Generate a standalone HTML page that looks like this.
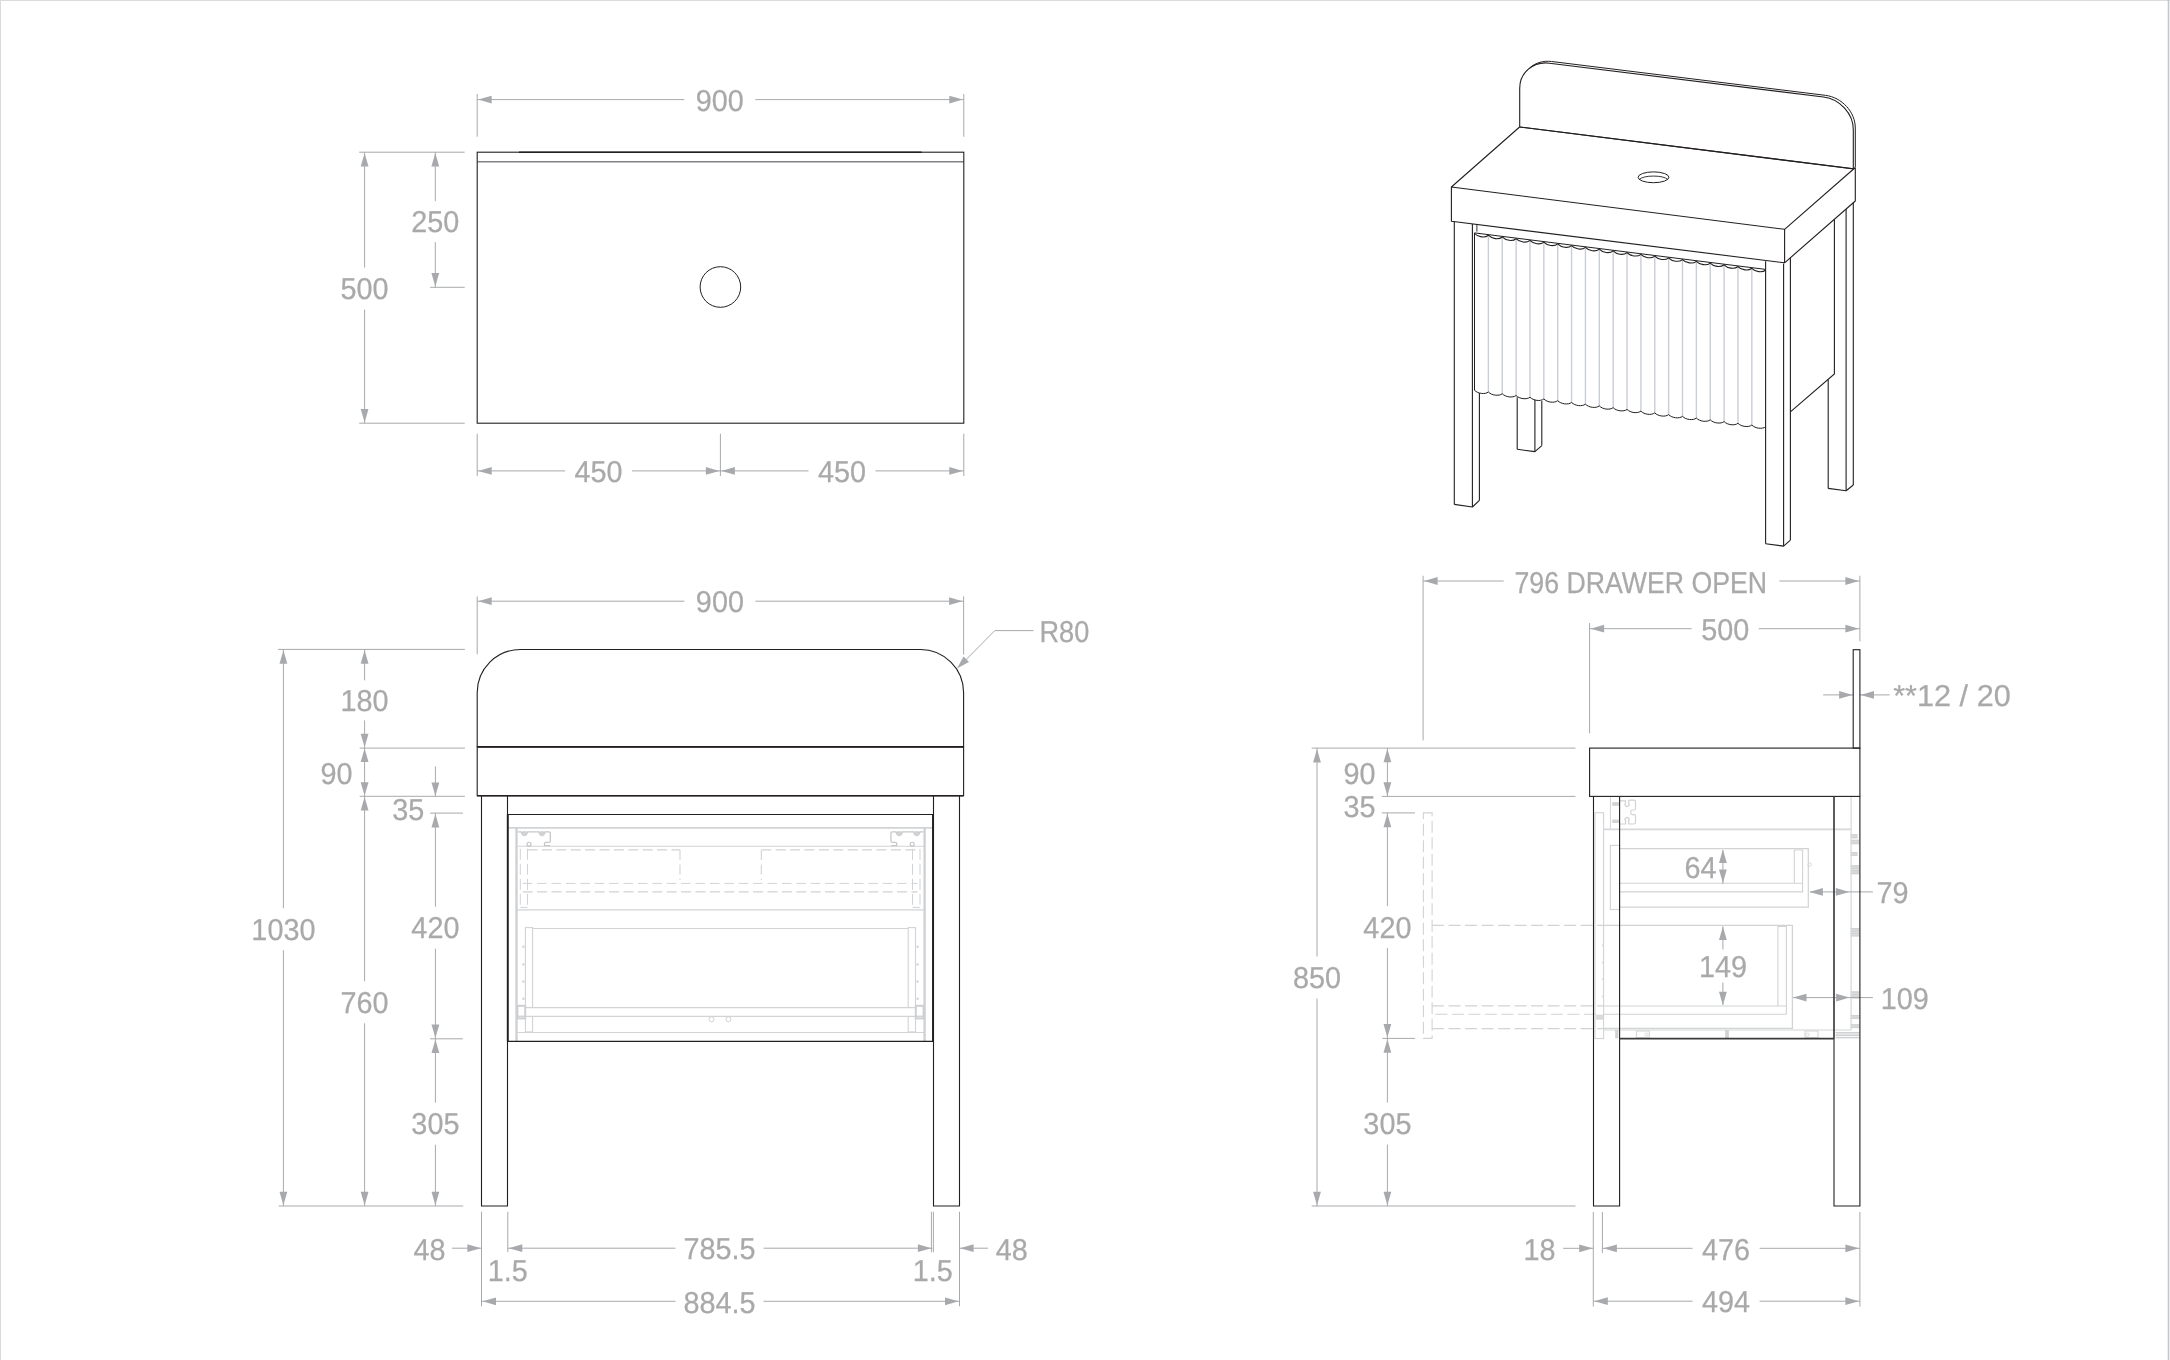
<!DOCTYPE html>
<html lang="en"><head><meta charset="utf-8"><title>Vanity 900 technical drawing</title>
<style>
html,body{margin:0;padding:0;background:#fff}
body{width:2170px;height:1360px;overflow:hidden}
svg{display:block}
svg text{font-family:"Liberation Sans",sans-serif;fill:#a7a9ac;stroke:#a7a9ac;stroke-width:0.25px;text-rendering:geometricPrecision}
</style></head><body>
<svg width="2170" height="1360" viewBox="0 0 2170 1360">
<rect x="0" y="0" width="2170" height="1360" fill="#fff"/>
<line x1="0.50" y1="0.00" x2="0.50" y2="1360.00" stroke="#d9dcdd" stroke-width="1" />
<line x1="0.00" y1="0.50" x2="2170.00" y2="0.50" stroke="#d9dcdd" stroke-width="1" />
<line x1="2168.50" y1="0.00" x2="2168.50" y2="1360.00" stroke="#c3c5cc" stroke-width="1.6" />
<line x1="477.20" y1="161.80" x2="963.80" y2="161.80" stroke="#808285" stroke-width="1.6" />
<line x1="477.20" y1="94.00" x2="477.20" y2="136.80" stroke="#a7a9ac" stroke-width="1" />
<line x1="963.80" y1="94.00" x2="963.80" y2="136.80" stroke="#a7a9ac" stroke-width="1" />
<line x1="477.20" y1="99.60" x2="684.30" y2="99.60" stroke="#a7a9ac" stroke-width="1" />
<line x1="755.30" y1="99.60" x2="963.80" y2="99.60" stroke="#a7a9ac" stroke-width="1" />
<polygon points="478.20,99.60 491.70,95.70 491.70,103.50" fill="#a7a9ac"/>
<polygon points="962.80,99.60 949.30,95.70 949.30,103.50" fill="#a7a9ac"/>
<line x1="359.20" y1="152.20" x2="464.70" y2="152.20" stroke="#a7a9ac" stroke-width="1" />
<line x1="359.20" y1="423.20" x2="464.70" y2="423.20" stroke="#a7a9ac" stroke-width="1" />
<line x1="430.20" y1="287.30" x2="464.70" y2="287.30" stroke="#a7a9ac" stroke-width="1" />
<line x1="364.60" y1="152.20" x2="364.60" y2="267.60" stroke="#a7a9ac" stroke-width="1" />
<line x1="364.60" y1="309.60" x2="364.60" y2="423.20" stroke="#a7a9ac" stroke-width="1" />
<polygon points="364.60,153.00 360.70,166.50 368.50,166.50" fill="#a7a9ac"/>
<polygon points="364.60,422.40 360.70,408.90 368.50,408.90" fill="#a7a9ac"/>
<line x1="435.30" y1="152.20" x2="435.30" y2="201.10" stroke="#a7a9ac" stroke-width="1" />
<line x1="435.30" y1="242.10" x2="435.30" y2="287.30" stroke="#a7a9ac" stroke-width="1" />
<polygon points="435.30,153.00 431.40,166.50 439.20,166.50" fill="#a7a9ac"/>
<polygon points="435.30,286.50 431.40,273.00 439.20,273.00" fill="#a7a9ac"/>
<line x1="477.20" y1="433.70" x2="477.20" y2="476.00" stroke="#a7a9ac" stroke-width="1" />
<line x1="720.40" y1="433.70" x2="720.40" y2="476.00" stroke="#a7a9ac" stroke-width="1" />
<line x1="963.80" y1="433.70" x2="963.80" y2="476.00" stroke="#a7a9ac" stroke-width="1" />
<line x1="477.20" y1="470.90" x2="565.10" y2="470.90" stroke="#a7a9ac" stroke-width="1" />
<line x1="632.10" y1="470.90" x2="720.40" y2="470.90" stroke="#a7a9ac" stroke-width="1" />
<polygon points="478.20,470.90 491.70,467.00 491.70,474.80" fill="#a7a9ac"/>
<polygon points="719.40,470.90 705.90,467.00 705.90,474.80" fill="#a7a9ac"/>
<line x1="720.40" y1="470.90" x2="808.50" y2="470.90" stroke="#a7a9ac" stroke-width="1" />
<line x1="875.50" y1="470.90" x2="963.80" y2="470.90" stroke="#a7a9ac" stroke-width="1" />
<polygon points="721.40,470.90 734.90,467.00 734.90,474.80" fill="#a7a9ac"/>
<polygon points="962.80,470.90 949.30,467.00 949.30,474.80" fill="#a7a9ac"/>
<line x1="507.50" y1="827.90" x2="933.50" y2="827.90" stroke="#d1d3d4" stroke-width="1.7" />
<line x1="516.50" y1="827.90" x2="516.50" y2="1041.30" stroke="#cdcfd1" stroke-width="2.3" />
<line x1="924.60" y1="827.90" x2="924.60" y2="1041.30" stroke="#cdcfd1" stroke-width="2.3" />
<line x1="517.50" y1="846.30" x2="923.60" y2="846.30" stroke="#d1d3d4" stroke-width="1.1" />
<line x1="516.50" y1="909.90" x2="924.60" y2="909.90" stroke="#d1d3d4" stroke-width="1.2" />
<line x1="516.50" y1="1032.50" x2="924.60" y2="1032.50" stroke="#d1d3d4" stroke-width="1.1" />
<path d="M518,831.8 h3.4 a2.9,2.9 0 0 0 6,0 h11.6 a2.9,2.9 0 0 0 6,0 h3.8 q1.5,0 1.5,1.5 v7.6 q0,1.5 -1.5,1.5 h-3 q-1.3,0 -1.3,1.3 v1.9 h5.6" stroke="#c5c7c9" stroke-width="1.3" fill="none" />
<circle cx="524.40" cy="833.6" r="2.7" fill="#cfd1d3" stroke="none"/>
<circle cx="542.00" cy="833.6" r="2.7" fill="#cfd1d3" stroke="none"/>
<circle cx="529.00" cy="844.3" r="2" fill="none" stroke="#c0c2c4" stroke-width="1.1"/>
<path d="M923.2,831.8 h-3.4 a2.9,2.9 0 0 1 -6,0 h-11.6 a2.9,2.9 0 0 1 -6,0 h-3.8 q-1.5,0 -1.5,1.5 v7.6 q0,1.5 1.5,1.5 h3 q1.3,0 1.3,1.3 v1.9 h-5.6" stroke="#c5c7c9" stroke-width="1.3" fill="none" />
<circle cx="916.80" cy="833.6" r="2.7" fill="#cfd1d3" stroke="none"/>
<circle cx="899.20" cy="833.6" r="2.7" fill="#cfd1d3" stroke="none"/>
<circle cx="912.20" cy="844.3" r="2" fill="none" stroke="#c0c2c4" stroke-width="1.1"/>
<line x1="527.50" y1="849.90" x2="680.00" y2="849.90" stroke="#d1d3d4" stroke-width="1.3" stroke-dasharray="10 4.4"/>
<line x1="761.30" y1="849.90" x2="920.00" y2="849.90" stroke="#d1d3d4" stroke-width="1.3" stroke-dasharray="10 4.4"/>
<line x1="680.00" y1="850.00" x2="680.00" y2="880.00" stroke="#d1d3d4" stroke-width="1.1" stroke-dasharray="10 4.4"/>
<line x1="761.30" y1="850.00" x2="761.30" y2="880.00" stroke="#d1d3d4" stroke-width="1.1" stroke-dasharray="10 4.4"/>
<line x1="522.70" y1="883.40" x2="917.50" y2="883.40" stroke="#d1d3d4" stroke-width="1" stroke-dasharray="9.6 4.8"/>
<line x1="522.70" y1="891.90" x2="917.50" y2="891.90" stroke="#d1d3d4" stroke-width="1.3" stroke-dasharray="10 4.4"/>
<line x1="520.30" y1="848.80" x2="520.30" y2="907.40" stroke="#d1d3d4" stroke-width="1" stroke-dasharray="11 4"/>
<line x1="527.50" y1="848.80" x2="527.50" y2="907.40" stroke="#d1d3d4" stroke-width="1" stroke-dasharray="11 4"/>
<line x1="912.50" y1="848.80" x2="912.50" y2="907.40" stroke="#d1d3d4" stroke-width="1" stroke-dasharray="11 4"/>
<line x1="920.00" y1="848.80" x2="920.00" y2="907.40" stroke="#d1d3d4" stroke-width="1" stroke-dasharray="11 4"/>
<line x1="520.30" y1="907.40" x2="527.50" y2="907.40" stroke="#d1d3d4" stroke-width="1" />
<line x1="912.50" y1="907.40" x2="920.00" y2="907.40" stroke="#d1d3d4" stroke-width="1" />
<rect x="525.40" y="927.60" width="7.20" height="104.30" stroke="#d1d3d4" stroke-width="1.1" fill="none"/>
<rect x="908.20" y="927.60" width="7.30" height="104.30" stroke="#d1d3d4" stroke-width="1.1" fill="none"/>
<line x1="532.60" y1="928.50" x2="908.20" y2="928.50" stroke="#d1d3d4" stroke-width="1.1" />
<line x1="525.40" y1="1007.60" x2="915.50" y2="1007.60" stroke="#d1d3d4" stroke-width="1.2" />
<line x1="518.00" y1="1016.30" x2="923.00" y2="1016.30" stroke="#d1d3d4" stroke-width="1.2" />
<rect x="525.40" y="1007.60" width="390.10" height="8.70" stroke="none" stroke-width="0" fill="#fff"/>
<line x1="525.40" y1="1007.60" x2="915.50" y2="1007.60" stroke="#d1d3d4" stroke-width="1.2" />
<line x1="518.00" y1="1016.30" x2="923.00" y2="1016.30" stroke="#d1d3d4" stroke-width="1.2" />
<rect x="517.40" y="1005.80" width="7.80" height="12.60" stroke="#cdcfd1" stroke-width="2" fill="none"/>
<rect x="915.80" y="1005.80" width="7.80" height="12.60" stroke="#cdcfd1" stroke-width="2" fill="none"/>
<circle cx="523.4" cy="946.8" r="1.2" fill="#d1d3d4" stroke="none"/>
<circle cx="917.6" cy="946.8" r="1.2" fill="#d1d3d4" stroke="none"/>
<circle cx="523.4" cy="964.4" r="1.2" fill="#d1d3d4" stroke="none"/>
<circle cx="917.6" cy="964.4" r="1.2" fill="#d1d3d4" stroke="none"/>
<circle cx="523.4" cy="981.5" r="1.2" fill="#d1d3d4" stroke="none"/>
<circle cx="917.6" cy="981.5" r="1.2" fill="#d1d3d4" stroke="none"/>
<circle cx="523.4" cy="998.7" r="1.2" fill="#d1d3d4" stroke="none"/>
<circle cx="917.6" cy="998.7" r="1.2" fill="#d1d3d4" stroke="none"/>
<circle cx="711.5" cy="1019.3" r="2.5" fill="none" stroke="#d1d3d4" stroke-width="1"/>
<circle cx="728.4" cy="1019.3" r="2.5" fill="none" stroke="#d1d3d4" stroke-width="1"/>
<line x1="477.20" y1="596.40" x2="477.20" y2="654.30" stroke="#a7a9ac" stroke-width="1" />
<line x1="963.60" y1="596.40" x2="963.60" y2="654.50" stroke="#a7a9ac" stroke-width="1" />
<line x1="477.20" y1="601.20" x2="684.40" y2="601.20" stroke="#a7a9ac" stroke-width="1" />
<line x1="755.40" y1="601.20" x2="963.60" y2="601.20" stroke="#a7a9ac" stroke-width="1" />
<polygon points="478.20,601.20 491.70,597.30 491.70,605.10" fill="#a7a9ac"/>
<polygon points="962.60,601.20 949.10,597.30 949.10,605.10" fill="#a7a9ac"/>
<line x1="960.00" y1="665.80" x2="994.80" y2="630.60" stroke="#a7a9ac" stroke-width="1" />
<line x1="994.80" y1="630.60" x2="1033.60" y2="630.60" stroke="#a7a9ac" stroke-width="1" />
<polygon points="956.9,668.4 963.6,656.6 969,662" fill="#a7a9ac"/>
<line x1="278.00" y1="649.40" x2="464.90" y2="649.40" stroke="#a7a9ac" stroke-width="1" />
<line x1="359.70" y1="748.10" x2="464.90" y2="748.10" stroke="#a7a9ac" stroke-width="1" />
<line x1="359.70" y1="796.30" x2="464.90" y2="796.30" stroke="#a7a9ac" stroke-width="1" />
<line x1="430.10" y1="813.10" x2="462.90" y2="813.10" stroke="#a7a9ac" stroke-width="1" />
<line x1="430.10" y1="1038.80" x2="462.90" y2="1038.80" stroke="#a7a9ac" stroke-width="1" />
<line x1="278.70" y1="1206.00" x2="463.20" y2="1206.00" stroke="#a7a9ac" stroke-width="1" />
<line x1="283.40" y1="649.40" x2="283.40" y2="908.30" stroke="#a7a9ac" stroke-width="1" />
<line x1="283.40" y1="950.30" x2="283.40" y2="1206.00" stroke="#a7a9ac" stroke-width="1" />
<polygon points="283.40,650.20 279.50,663.70 287.30,663.70" fill="#a7a9ac"/>
<polygon points="283.40,1205.20 279.50,1191.70 287.30,1191.70" fill="#a7a9ac"/>
<line x1="364.60" y1="649.40" x2="364.60" y2="680.40" stroke="#a7a9ac" stroke-width="1" />
<line x1="364.60" y1="720.40" x2="364.60" y2="748.10" stroke="#a7a9ac" stroke-width="1" />
<polygon points="364.60,650.20 360.70,663.70 368.50,663.70" fill="#a7a9ac"/>
<polygon points="364.60,747.30 360.70,733.80 368.50,733.80" fill="#a7a9ac"/>
<line x1="364.60" y1="748.10" x2="364.60" y2="796.30" stroke="#a7a9ac" stroke-width="1" />
<polygon points="364.60,748.60 360.70,762.10 368.50,762.10" fill="#a7a9ac"/>
<polygon points="364.60,795.80 360.70,782.30 368.50,782.30" fill="#a7a9ac"/>
<line x1="364.60" y1="796.30" x2="364.60" y2="981.30" stroke="#a7a9ac" stroke-width="1" />
<line x1="364.60" y1="1023.30" x2="364.60" y2="1206.00" stroke="#a7a9ac" stroke-width="1" />
<polygon points="364.60,797.10 360.70,810.60 368.50,810.60" fill="#a7a9ac"/>
<polygon points="364.60,1205.20 360.70,1191.70 368.50,1191.70" fill="#a7a9ac"/>
<line x1="435.40" y1="766.40" x2="435.40" y2="796.30" stroke="#a7a9ac" stroke-width="1" />
<polygon points="435.40,796.00 431.50,782.50 439.30,782.50" fill="#a7a9ac"/>
<line x1="435.40" y1="813.10" x2="435.40" y2="906.70" stroke="#a7a9ac" stroke-width="1" />
<line x1="435.40" y1="948.70" x2="435.40" y2="1038.80" stroke="#a7a9ac" stroke-width="1" />
<polygon points="435.40,813.90 431.50,827.40 439.30,827.40" fill="#a7a9ac"/>
<polygon points="435.40,1038.00 431.50,1024.50 439.30,1024.50" fill="#a7a9ac"/>
<line x1="435.40" y1="1038.80" x2="435.40" y2="1102.70" stroke="#a7a9ac" stroke-width="1" />
<line x1="435.40" y1="1144.70" x2="435.40" y2="1206.00" stroke="#a7a9ac" stroke-width="1" />
<polygon points="435.40,1039.60 431.50,1053.10 439.30,1053.10" fill="#a7a9ac"/>
<polygon points="435.40,1205.20 431.50,1191.70 439.30,1191.70" fill="#a7a9ac"/>
<line x1="481.50" y1="1211.70" x2="481.50" y2="1306.20" stroke="#a7a9ac" stroke-width="1" />
<line x1="959.50" y1="1211.70" x2="959.50" y2="1306.20" stroke="#a7a9ac" stroke-width="1" />
<line x1="507.80" y1="1211.70" x2="507.80" y2="1252.20" stroke="#a7a9ac" stroke-width="1" />
<line x1="931.40" y1="1211.70" x2="931.40" y2="1252.20" stroke="#a7a9ac" stroke-width="1" />
<line x1="933.40" y1="1211.70" x2="933.40" y2="1252.20" stroke="#a7a9ac" stroke-width="1" />
<line x1="452.00" y1="1248.20" x2="481.50" y2="1248.20" stroke="#a7a9ac" stroke-width="1" />
<polygon points="480.90,1248.20 467.40,1244.30 467.40,1252.10" fill="#a7a9ac"/>
<line x1="959.50" y1="1248.20" x2="988.00" y2="1248.20" stroke="#a7a9ac" stroke-width="1" />
<polygon points="960.10,1248.20 973.60,1244.30 973.60,1252.10" fill="#a7a9ac"/>
<line x1="507.80" y1="1248.20" x2="675.50" y2="1248.20" stroke="#a7a9ac" stroke-width="1" />
<line x1="763.50" y1="1248.20" x2="932.40" y2="1248.20" stroke="#a7a9ac" stroke-width="1" />
<polygon points="508.80,1248.20 522.30,1244.30 522.30,1252.10" fill="#a7a9ac"/>
<polygon points="931.40,1248.20 917.90,1244.30 917.90,1252.10" fill="#a7a9ac"/>
<line x1="481.50" y1="1301.30" x2="675.50" y2="1301.30" stroke="#a7a9ac" stroke-width="1" />
<line x1="763.50" y1="1301.30" x2="959.50" y2="1301.30" stroke="#a7a9ac" stroke-width="1" />
<polygon points="482.50,1301.30 496.00,1297.40 496.00,1305.20" fill="#a7a9ac"/>
<polygon points="958.50,1301.30 945.00,1297.40 945.00,1305.20" fill="#a7a9ac"/>
<line x1="1851.10" y1="796.40" x2="1851.10" y2="1030.00" stroke="#d1d3d4" stroke-width="1.1" />
<rect x="1595.00" y="812.70" width="8.60" height="225.90" stroke="#d1d3d4" stroke-width="1.1" fill="none"/>
<line x1="1610.40" y1="797.10" x2="1610.40" y2="829.30" stroke="#d1d3d4" stroke-width="1" />
<line x1="1603.60" y1="829.30" x2="1851.10" y2="829.30" stroke="#d5d7d9" stroke-width="1.8" />
<path d="M1620,800.8 h5.6 v2 a2.1,2.1 0 1 0 3,0 v-2 q0.3,-0.6 1.5,-0.6 h3.6 q1.8,0 1.8,1.8 v6.6 q0,1.4 -1.4,1.4 h-1.6 q-1.7,0 -1.7,1.7 v1.2 q0,1.7 1.7,1.7 h1.6 q1.4,0 1.4,1.4 v6.2 q0,1.8 -1.8,1.8 h-3.6 q-1.2,0 -1.5,-0.6 v-2.4 a2.1,2.1 0 1 0 -3,0 v3 h-5.6" stroke="#d1d3d4" stroke-width="1.2" fill="none" />
<rect x="1612.20" y="802.20" width="6.80" height="3.60" stroke="none" stroke-width="0" fill="#d1d3d4"/>
<rect x="1612.20" y="819.60" width="6.80" height="3.40" stroke="none" stroke-width="0" fill="#d1d3d4"/>
<rect x="1610.40" y="845.40" width="9.20" height="64.20" stroke="#d1d3d4" stroke-width="1.1" fill="none"/>
<path d="M1619.6,848.6 H1808.3 V907.1 H1619.6" stroke="#d1d3d4" stroke-width="1.2" fill="none" />
<path d="M1619.6,883.3 H1802.6 M1619.6,891.9 H1802.6 V850 H1794.3 V883.3" stroke="#d1d3d4" stroke-width="1.1" fill="none" />
<circle cx="1809.6" cy="864.6" r="1.7" fill="none" stroke="#d1d3d4" stroke-width="0.9"/>
<path d="M1603.6,925.4 H1792.4 V1028.3 H1603.6" stroke="#d1d3d4" stroke-width="1.3" fill="none" />
<path d="M1603.6,1006 H1786.4 M1603.6,1014.3 H1786.4 V926.4 H1777.9 V1006" stroke="#d1d3d4" stroke-width="1.1" fill="none" />
<line x1="1603.60" y1="1030.00" x2="1851.10" y2="1030.00" stroke="#d1d3d4" stroke-width="1.1" />
<rect x="1615.60" y="1030.50" width="2.40" height="7.50" stroke="#c8cacc" stroke-width="0.5" fill="#d1d3d4"/>
<rect x="1725.60" y="1030.50" width="3.00" height="7.50" stroke="#c8cacc" stroke-width="0.5" fill="#d1d3d4"/>
<rect x="1636.40" y="1031.00" width="12.90" height="6.60" stroke="#d1d3d4" stroke-width="1" fill="none"/>
<rect x="1805.00" y="1031.00" width="13.00" height="6.60" stroke="#d1d3d4" stroke-width="1" fill="none"/>
<circle cx="1646.5" cy="1034.6" r="1.6" fill="none" stroke="#d1d3d4" stroke-width="0.9"/>
<circle cx="1807.5" cy="1034.6" r="1.6" fill="none" stroke="#d1d3d4" stroke-width="0.9"/>
<rect x="1596.40" y="1015.00" width="6.60" height="4.30" stroke="#d1d3d4" stroke-width="0.5" fill="#d9dadb"/>
<line x1="1602.90" y1="944.40" x2="1602.90" y2="946.40" stroke="#d1d3d4" stroke-width="1.3" />
<line x1="1602.90" y1="961.40" x2="1602.90" y2="963.40" stroke="#d1d3d4" stroke-width="1.3" />
<line x1="1602.90" y1="978.30" x2="1602.90" y2="980.30" stroke="#d1d3d4" stroke-width="1.3" />
<line x1="1602.90" y1="995.40" x2="1602.90" y2="997.40" stroke="#d1d3d4" stroke-width="1.3" />
<rect x="1850.80" y="834.30" width="6.70" height="4.20" stroke="none" stroke-width="0" fill="#dfe0e1"/>
<line x1="1850.80" y1="835.00" x2="1857.50" y2="835.00" stroke="#cfd1d3" stroke-width="1.4" />
<line x1="1850.80" y1="837.40" x2="1857.50" y2="837.40" stroke="#cfd1d3" stroke-width="1.4" />
<rect x="1850.80" y="839.80" width="8.40" height="4.70" stroke="none" stroke-width="0" fill="#dfe0e1"/>
<line x1="1850.80" y1="840.50" x2="1859.20" y2="840.50" stroke="#cfd1d3" stroke-width="1.4" />
<line x1="1850.80" y1="842.90" x2="1859.20" y2="842.90" stroke="#cfd1d3" stroke-width="1.4" />
<rect x="1850.80" y="852.00" width="6.70" height="3.80" stroke="none" stroke-width="0" fill="#dfe0e1"/>
<line x1="1850.80" y1="852.70" x2="1857.50" y2="852.70" stroke="#cfd1d3" stroke-width="1.4" />
<line x1="1850.80" y1="855.10" x2="1857.50" y2="855.10" stroke="#cfd1d3" stroke-width="1.4" />
<rect x="1850.80" y="865.30" width="8.40" height="9.20" stroke="none" stroke-width="0" fill="#dfe0e1"/>
<line x1="1850.80" y1="866.00" x2="1859.20" y2="866.00" stroke="#cfd1d3" stroke-width="1.4" />
<line x1="1850.80" y1="868.40" x2="1859.20" y2="868.40" stroke="#cfd1d3" stroke-width="1.4" />
<line x1="1850.80" y1="870.80" x2="1859.20" y2="870.80" stroke="#cfd1d3" stroke-width="1.4" />
<line x1="1850.80" y1="873.20" x2="1859.20" y2="873.20" stroke="#cfd1d3" stroke-width="1.4" />
<rect x="1850.80" y="928.00" width="8.40" height="7.80" stroke="none" stroke-width="0" fill="#dfe0e1"/>
<line x1="1850.80" y1="928.70" x2="1859.20" y2="928.70" stroke="#cfd1d3" stroke-width="1.4" />
<line x1="1850.80" y1="931.10" x2="1859.20" y2="931.10" stroke="#cfd1d3" stroke-width="1.4" />
<line x1="1850.80" y1="933.50" x2="1859.20" y2="933.50" stroke="#cfd1d3" stroke-width="1.4" />
<line x1="1850.80" y1="935.90" x2="1859.20" y2="935.90" stroke="#cfd1d3" stroke-width="1.4" />
<rect x="1850.80" y="991.40" width="8.40" height="7.40" stroke="none" stroke-width="0" fill="#dfe0e1"/>
<line x1="1850.80" y1="992.10" x2="1859.20" y2="992.10" stroke="#cfd1d3" stroke-width="1.4" />
<line x1="1850.80" y1="994.50" x2="1859.20" y2="994.50" stroke="#cfd1d3" stroke-width="1.4" />
<line x1="1850.80" y1="996.90" x2="1859.20" y2="996.90" stroke="#cfd1d3" stroke-width="1.4" />
<rect x="1850.80" y="1015.00" width="8.40" height="3.80" stroke="none" stroke-width="0" fill="#dfe0e1"/>
<line x1="1850.80" y1="1015.70" x2="1859.20" y2="1015.70" stroke="#cfd1d3" stroke-width="1.4" />
<line x1="1850.80" y1="1018.10" x2="1859.20" y2="1018.10" stroke="#cfd1d3" stroke-width="1.4" />
<rect x="1850.80" y="1024.30" width="8.40" height="3.00" stroke="none" stroke-width="0" fill="#dfe0e1"/>
<line x1="1850.80" y1="1025.00" x2="1859.20" y2="1025.00" stroke="#cfd1d3" stroke-width="1.4" />
<line x1="1850.80" y1="1027.40" x2="1859.20" y2="1027.40" stroke="#cfd1d3" stroke-width="1.4" />
<line x1="1835.70" y1="1032.80" x2="1859.20" y2="1032.80" stroke="#cfd1d3" stroke-width="1.6" />
<line x1="1835.70" y1="1035.20" x2="1859.20" y2="1035.20" stroke="#cfd1d3" stroke-width="1.6" />
<line x1="1835.70" y1="1037.60" x2="1859.20" y2="1037.60" stroke="#cfd1d3" stroke-width="1.6" />
<path d="M1423.4,812.9 H1432.1 V1038.4 H1423.4 Z" stroke="#d1d3d4" stroke-width="1.1" fill="none" stroke-dasharray="12 4.5"/>
<line x1="1432.10" y1="925.40" x2="1603.60" y2="925.40" stroke="#d1d3d4" stroke-width="1.1" stroke-dasharray="12 4.5"/>
<line x1="1432.10" y1="1005.90" x2="1603.60" y2="1005.90" stroke="#d1d3d4" stroke-width="1.4" stroke-dasharray="12 4.5"/>
<line x1="1435.40" y1="1014.30" x2="1596.00" y2="1014.30" stroke="#d1d3d4" stroke-width="1.1" stroke-dasharray="12 4.5"/>
<line x1="1432.10" y1="1028.60" x2="1603.60" y2="1028.60" stroke="#d1d3d4" stroke-width="1.1" stroke-dasharray="12 4.5"/>
<line x1="1423.10" y1="575.80" x2="1423.10" y2="740.40" stroke="#a7a9ac" stroke-width="1" />
<line x1="1859.90" y1="575.80" x2="1859.90" y2="641.30" stroke="#a7a9ac" stroke-width="1" />
<line x1="1423.10" y1="581.00" x2="1503.70" y2="581.00" stroke="#a7a9ac" stroke-width="1" />
<line x1="1779.30" y1="581.00" x2="1859.90" y2="581.00" stroke="#a7a9ac" stroke-width="1" />
<polygon points="1424.10,581.00 1437.60,577.10 1437.60,584.90" fill="#a7a9ac"/>
<polygon points="1858.90,581.00 1845.40,577.10 1845.40,584.90" fill="#a7a9ac"/>
<line x1="1589.60" y1="623.00" x2="1589.60" y2="733.40" stroke="#a7a9ac" stroke-width="1" />
<line x1="1589.60" y1="628.70" x2="1691.70" y2="628.70" stroke="#a7a9ac" stroke-width="1" />
<line x1="1758.70" y1="628.70" x2="1859.90" y2="628.70" stroke="#a7a9ac" stroke-width="1" />
<polygon points="1590.60,628.70 1604.10,624.80 1604.10,632.60" fill="#a7a9ac"/>
<polygon points="1858.90,628.70 1845.40,624.80 1845.40,632.60" fill="#a7a9ac"/>
<line x1="1823.10" y1="694.90" x2="1853.20" y2="694.90" stroke="#a7a9ac" stroke-width="1" />
<polygon points="1852.60,694.90 1839.10,691.00 1839.10,698.80" fill="#a7a9ac"/>
<line x1="1859.90" y1="694.90" x2="1889.70" y2="694.90" stroke="#a7a9ac" stroke-width="1" />
<polygon points="1860.50,694.90 1874.00,691.00 1874.00,698.80" fill="#a7a9ac"/>
<line x1="1311.70" y1="748.10" x2="1575.50" y2="748.10" stroke="#a7a9ac" stroke-width="1" />
<line x1="1381.80" y1="796.40" x2="1575.50" y2="796.40" stroke="#a7a9ac" stroke-width="1" />
<line x1="1381.80" y1="812.90" x2="1415.00" y2="812.90" stroke="#a7a9ac" stroke-width="1" />
<line x1="1382.30" y1="1038.40" x2="1415.20" y2="1038.40" stroke="#a7a9ac" stroke-width="1" />
<line x1="1311.70" y1="1206.00" x2="1575.50" y2="1206.00" stroke="#a7a9ac" stroke-width="1" />
<line x1="1317.00" y1="748.10" x2="1317.00" y2="956.50" stroke="#a7a9ac" stroke-width="1" />
<line x1="1317.00" y1="998.50" x2="1317.00" y2="1206.00" stroke="#a7a9ac" stroke-width="1" />
<polygon points="1317.00,748.90 1313.10,762.40 1320.90,762.40" fill="#a7a9ac"/>
<polygon points="1317.00,1205.20 1313.10,1191.70 1320.90,1191.70" fill="#a7a9ac"/>
<line x1="1387.40" y1="748.10" x2="1387.40" y2="796.40" stroke="#a7a9ac" stroke-width="1" />
<polygon points="1387.40,748.70 1383.50,762.20 1391.30,762.20" fill="#a7a9ac"/>
<polygon points="1387.40,795.80 1383.50,782.30 1391.30,782.30" fill="#a7a9ac"/>
<line x1="1387.40" y1="812.90" x2="1387.40" y2="906.10" stroke="#a7a9ac" stroke-width="1" />
<line x1="1387.40" y1="948.10" x2="1387.40" y2="1038.40" stroke="#a7a9ac" stroke-width="1" />
<polygon points="1387.40,813.70 1383.50,827.20 1391.30,827.20" fill="#a7a9ac"/>
<polygon points="1387.40,1037.60 1383.50,1024.10 1391.30,1024.10" fill="#a7a9ac"/>
<line x1="1387.40" y1="1038.40" x2="1387.40" y2="1102.60" stroke="#a7a9ac" stroke-width="1" />
<line x1="1387.40" y1="1144.60" x2="1387.40" y2="1206.00" stroke="#a7a9ac" stroke-width="1" />
<polygon points="1387.40,1039.20 1383.50,1052.70 1391.30,1052.70" fill="#a7a9ac"/>
<polygon points="1387.40,1205.20 1383.50,1191.70 1391.30,1191.70" fill="#a7a9ac"/>
<line x1="1722.90" y1="850.00" x2="1722.90" y2="884.00" stroke="#a7a9ac" stroke-width="1" />
<polygon points="1722.90,849.60 1719.00,863.10 1726.80,863.10" fill="#a7a9ac"/>
<polygon points="1722.90,883.00 1719.00,869.50 1726.80,869.50" fill="#a7a9ac"/>
<line x1="1722.90" y1="926.40" x2="1722.90" y2="949.50" stroke="#a7a9ac" stroke-width="1" />
<line x1="1722.90" y1="982.50" x2="1722.90" y2="1005.00" stroke="#a7a9ac" stroke-width="1" />
<polygon points="1722.90,926.60 1719.00,940.10 1726.80,940.10" fill="#a7a9ac"/>
<polygon points="1722.90,1005.20 1719.00,991.70 1726.80,991.70" fill="#a7a9ac"/>
<line x1="1810.00" y1="891.90" x2="1872.90" y2="891.90" stroke="#a7a9ac" stroke-width="1" />
<polygon points="1809.40,891.90 1822.90,888.00 1822.90,895.80" fill="#a7a9ac"/>
<polygon points="1849.40,891.90 1835.90,888.00 1835.90,895.80" fill="#a7a9ac"/>
<line x1="1793.00" y1="997.60" x2="1872.90" y2="997.60" stroke="#a7a9ac" stroke-width="1" />
<polygon points="1793.00,997.60 1806.50,993.70 1806.50,1001.50" fill="#a7a9ac"/>
<polygon points="1849.60,997.60 1836.10,993.70 1836.10,1001.50" fill="#a7a9ac"/>
<line x1="1593.30" y1="1211.90" x2="1593.30" y2="1306.50" stroke="#a7a9ac" stroke-width="1" />
<line x1="1602.40" y1="1211.90" x2="1602.40" y2="1252.90" stroke="#a7a9ac" stroke-width="1" />
<line x1="1859.90" y1="1211.90" x2="1859.90" y2="1306.50" stroke="#a7a9ac" stroke-width="1" />
<line x1="1563.20" y1="1248.30" x2="1593.30" y2="1248.30" stroke="#a7a9ac" stroke-width="1" />
<polygon points="1592.70,1248.30 1579.20,1244.40 1579.20,1252.20" fill="#a7a9ac"/>
<line x1="1602.40" y1="1248.30" x2="1692.60" y2="1248.30" stroke="#a7a9ac" stroke-width="1" />
<line x1="1759.60" y1="1248.30" x2="1859.90" y2="1248.30" stroke="#a7a9ac" stroke-width="1" />
<polygon points="1603.40,1248.30 1616.90,1244.40 1616.90,1252.20" fill="#a7a9ac"/>
<polygon points="1858.90,1248.30 1845.40,1244.40 1845.40,1252.20" fill="#a7a9ac"/>
<line x1="1593.30" y1="1301.20" x2="1692.60" y2="1301.20" stroke="#a7a9ac" stroke-width="1" />
<line x1="1759.60" y1="1301.20" x2="1859.90" y2="1301.20" stroke="#a7a9ac" stroke-width="1" />
<polygon points="1594.30,1301.20 1607.80,1297.30 1607.80,1305.10" fill="#a7a9ac"/>
<polygon points="1858.90,1301.20 1845.40,1297.30 1845.40,1305.10" fill="#a7a9ac"/>
<line x1="1488.37" y1="235.44" x2="1488.37" y2="392.04" stroke="#c9cdd9" stroke-width="1.4" />
<line x1="1502.23" y1="237.18" x2="1502.23" y2="393.78" stroke="#c9cdd9" stroke-width="1.4" />
<line x1="1516.10" y1="238.91" x2="1516.10" y2="395.51" stroke="#c9cdd9" stroke-width="1.4" />
<line x1="1529.97" y1="240.65" x2="1529.97" y2="397.25" stroke="#c9cdd9" stroke-width="1.4" />
<line x1="1543.83" y1="242.39" x2="1543.83" y2="398.99" stroke="#c9cdd9" stroke-width="1.4" />
<line x1="1557.70" y1="244.13" x2="1557.70" y2="400.73" stroke="#c9cdd9" stroke-width="1.4" />
<line x1="1571.57" y1="245.87" x2="1571.57" y2="402.47" stroke="#c9cdd9" stroke-width="1.4" />
<line x1="1585.43" y1="247.60" x2="1585.43" y2="404.20" stroke="#c9cdd9" stroke-width="1.4" />
<line x1="1599.30" y1="249.34" x2="1599.30" y2="405.94" stroke="#c9cdd9" stroke-width="1.4" />
<line x1="1613.17" y1="251.08" x2="1613.17" y2="407.68" stroke="#c9cdd9" stroke-width="1.4" />
<line x1="1627.03" y1="252.82" x2="1627.03" y2="409.42" stroke="#c9cdd9" stroke-width="1.4" />
<line x1="1640.90" y1="254.56" x2="1640.90" y2="411.16" stroke="#c9cdd9" stroke-width="1.4" />
<line x1="1654.77" y1="256.30" x2="1654.77" y2="412.90" stroke="#c9cdd9" stroke-width="1.4" />
<line x1="1668.63" y1="258.03" x2="1668.63" y2="414.63" stroke="#c9cdd9" stroke-width="1.4" />
<line x1="1682.50" y1="259.77" x2="1682.50" y2="416.37" stroke="#c9cdd9" stroke-width="1.4" />
<line x1="1696.37" y1="261.51" x2="1696.37" y2="418.11" stroke="#c9cdd9" stroke-width="1.4" />
<line x1="1710.23" y1="263.25" x2="1710.23" y2="419.85" stroke="#c9cdd9" stroke-width="1.4" />
<line x1="1724.10" y1="264.99" x2="1724.10" y2="421.59" stroke="#c9cdd9" stroke-width="1.4" />
<line x1="1737.97" y1="266.72" x2="1737.97" y2="423.32" stroke="#c9cdd9" stroke-width="1.4" />
<line x1="1751.83" y1="268.46" x2="1751.83" y2="425.06" stroke="#c9cdd9" stroke-width="1.4" />
<rect x="477.20" y="152.20" width="486.60" height="271.00" stroke="#231f20" stroke-width="1.1" fill="none"/>
<line x1="519.00" y1="152.20" x2="921.60" y2="152.20" stroke="#231f20" stroke-width="1.35" />
<circle cx="720.4" cy="287" r="20.3" fill="none" stroke="#231f20" stroke-width="1"/>
<path d="M477.2,746.9 V692.8 A43.3,43.3 0 0 1 520.5,649.5 H920.3000000000001 A43.3,43.3 0 0 1 963.6,692.8 V746.9" stroke="#231f20" stroke-width="1.1" fill="none" />
<rect x="477.20" y="746.90" width="486.40" height="48.80" stroke="#231f20" stroke-width="1.1" fill="none"/>
<line x1="477.20" y1="746.90" x2="963.60" y2="746.90" stroke="#231f20" stroke-width="1.9" />
<line x1="477.20" y1="795.70" x2="963.60" y2="795.70" stroke="#231f20" stroke-width="1.6" />
<path d="M481.5,795.7 V1206.0 H507.5 V795.7" stroke="#231f20" stroke-width="1.1" fill="none" />
<path d="M933.5,795.7 V1206.0 H959.5 V795.7" stroke="#231f20" stroke-width="1.1" fill="none" />
<line x1="507.50" y1="814.50" x2="933.50" y2="814.50" stroke="#231f20" stroke-width="1.15" />
<line x1="507.50" y1="1041.30" x2="933.50" y2="1041.30" stroke="#231f20" stroke-width="1.3" />
<line x1="507.80" y1="814.50" x2="507.80" y2="1041.30" stroke="#231f20" stroke-width="1.9" />
<line x1="933.00" y1="814.50" x2="933.00" y2="1041.30" stroke="#231f20" stroke-width="1.9" />
<rect x="1589.60" y="748.10" width="270.30" height="48.30" stroke="#231f20" stroke-width="1.1" fill="none"/>
<rect x="1853.20" y="649.70" width="6.70" height="98.40" stroke="#231f20" stroke-width="1.1" fill="none"/>
<path d="M1593.5,796.4 V1206.0 H1619.6 V796.4" stroke="#231f20" stroke-width="1.1" fill="none" />
<path d="M1834.0,796.4 V1206.0 H1859.9 V796.4" stroke="#231f20" stroke-width="1.1" fill="none" />
<line x1="1834.00" y1="796.40" x2="1834.00" y2="1038.60" stroke="#4d4d4f" stroke-width="1.45" />
<line x1="1619.60" y1="1038.60" x2="1834.00" y2="1038.60" stroke="#3a3a3c" stroke-width="1.6" />
<path d="M1519.60,127.00 L1451.40,187.00 L1784.60,229.30 L1855.30,167.50 M1451.40,187.00 L1451.40,221.30 L1784.60,262.80 L1855.30,201.00 L1855.30,167.50 M1784.60,229.30 L1784.60,262.80" stroke="#231f20" stroke-width="1.1" fill="none" stroke-linejoin="round"/>
<path d="M1521.70,125.30 L1521.70,86.80 C1521.70,70.78 1535.04,59.45 1551.50,61.48 L1825.50,95.35 C1841.96,97.38 1855.30,112.02 1855.30,128.03 L1855.3,167.3" stroke="#231f20" stroke-width="1.0" fill="none" />
<path d="M1519.7,127.0 L1519.70,88.50 C1519.70,72.48 1533.04,61.15 1549.50,63.18 L1823.50,97.05 C1839.96,99.08 1853.30,113.72 1853.30,129.73 L1853.3,168.8 Z" stroke="#231f20" stroke-width="1.1" fill="#fff" />
<line x1="1519.70" y1="127.00" x2="1853.30" y2="168.80" stroke="#231f20" stroke-width="1.1" />
<ellipse cx="1653.5" cy="177.3" rx="15.4" ry="5.4" fill="none" stroke="#231f20" stroke-width="1"/>
<path d="M1639.3,179.4 A15.4,5.4 0 0 1 1667.7,179.4" stroke="#231f20" stroke-width="0.9" fill="none" />
<line x1="1474.50" y1="232.90" x2="1765.70" y2="269.40" stroke="#231f20" stroke-width="1.0" />
<path d="M1474.50,233.50 C1477.97,237.23 1484.90,238.10 1488.37,235.24 C1491.83,238.97 1498.77,239.84 1502.23,236.98 C1505.70,240.71 1512.63,241.58 1516.10,238.71 C1519.57,242.45 1526.50,243.32 1529.97,240.45 C1533.43,244.19 1540.37,245.06 1543.83,242.19 C1547.30,245.92 1554.23,246.79 1557.70,243.93 C1561.17,247.66 1568.10,248.53 1571.57,245.67 C1575.03,249.40 1581.97,250.27 1585.43,247.40 C1588.90,251.14 1595.83,252.01 1599.30,249.14 C1602.77,252.88 1609.70,253.75 1613.17,250.88 C1616.63,254.62 1623.57,255.48 1627.03,252.62 C1630.50,256.35 1637.43,257.22 1640.90,254.36 C1644.37,258.09 1651.30,258.96 1654.77,256.10 C1658.23,259.83 1665.17,260.70 1668.63,257.83 C1672.10,261.57 1679.03,262.44 1682.50,259.57 C1685.97,263.31 1692.90,264.18 1696.37,261.31 C1699.83,265.04 1706.77,265.91 1710.23,263.05 C1713.70,266.78 1720.63,267.65 1724.10,264.79 C1727.57,268.52 1734.50,269.39 1737.97,266.52 C1741.43,270.26 1748.37,271.13 1751.83,268.26 C1755.30,272.00 1762.23,272.87 1765.70,270.00" stroke="#231f20" stroke-width="1.1" fill="none" />
<path d="M1474.50,390.30 C1477.97,393.73 1484.90,394.60 1488.37,392.04 C1491.83,395.47 1498.77,396.34 1502.23,393.78 C1505.70,397.21 1512.63,398.08 1516.10,395.51 C1519.57,398.95 1526.50,399.82 1529.97,397.25 C1533.43,400.69 1540.37,401.56 1543.83,398.99 C1547.30,402.43 1554.23,403.29 1557.70,400.73 C1561.17,404.16 1568.10,405.03 1571.57,402.47 C1575.03,405.90 1581.97,406.77 1585.43,404.20 C1588.90,407.64 1595.83,408.51 1599.30,405.94 C1602.77,409.38 1609.70,410.25 1613.17,407.68 C1616.63,411.12 1623.57,411.98 1627.03,409.42 C1630.50,412.85 1637.43,413.72 1640.90,411.16 C1644.37,414.59 1651.30,415.46 1654.77,412.90 C1658.23,416.33 1665.17,417.20 1668.63,414.63 C1672.10,418.07 1679.03,418.94 1682.50,416.37 C1685.97,419.81 1692.90,420.68 1696.37,418.11 C1699.83,421.54 1706.77,422.41 1710.23,419.85 C1713.70,423.28 1720.63,424.15 1724.10,421.59 C1727.57,425.02 1734.50,425.89 1737.97,423.32 C1741.43,426.76 1748.37,427.63 1751.83,425.06 C1755.30,428.50 1762.23,429.37 1765.70,426.80" stroke="#231f20" stroke-width="1.0" fill="none" />
<line x1="1474.50" y1="232.90" x2="1474.50" y2="390.30" stroke="#231f20" stroke-width="1.0" />
<line x1="1476.90" y1="224.50" x2="1476.90" y2="231.60" stroke="#231f20" stroke-width="0.9" />
<line x1="1454.30" y1="221.67" x2="1454.30" y2="504.40" stroke="#231f20" stroke-width="1.1" />
<line x1="1472.40" y1="223.97" x2="1472.40" y2="507.00" stroke="#231f20" stroke-width="1.1" />
<line x1="1479.40" y1="393.11" x2="1479.40" y2="500.40" stroke="#231f20" stroke-width="1.1" />
<path d="M1454.3,504.4 L1472.4,507 L1479.4,500.4" stroke="#231f20" stroke-width="1.1" fill="none" stroke-linejoin="round"/>
<line x1="1517.20" y1="397.15" x2="1517.20" y2="449.30" stroke="#231f20" stroke-width="1.1" />
<line x1="1534.90" y1="399.87" x2="1534.90" y2="451.60" stroke="#231f20" stroke-width="1.1" />
<line x1="1541.80" y1="401.04" x2="1541.80" y2="445.60" stroke="#231f20" stroke-width="1.1" />
<path d="M1517.2,449.3 L1534.9,451.6 L1541.8,445.6" stroke="#231f20" stroke-width="1.1" fill="none" stroke-linejoin="round"/>
<line x1="1765.60" y1="261.19" x2="1765.60" y2="543.70" stroke="#231f20" stroke-width="1.1" />
<line x1="1783.60" y1="263.47" x2="1783.60" y2="546.10" stroke="#231f20" stroke-width="1.1" />
<line x1="1790.40" y1="257.73" x2="1790.40" y2="540.10" stroke="#231f20" stroke-width="1.1" />
<path d="M1765.6,543.7 L1783.6,546.1 L1790.4,540.1" stroke="#231f20" stroke-width="1.1" fill="none" stroke-linejoin="round"/>
<path d="M1834.4,219.27 V374 L1790.4,411.8" stroke="#231f20" stroke-width="1.1" fill="none" />
<line x1="1828.20" y1="379.40" x2="1828.20" y2="488.40" stroke="#231f20" stroke-width="1.1" />
<line x1="1846.10" y1="209.04" x2="1846.10" y2="490.80" stroke="#231f20" stroke-width="1.1" />
<line x1="1853.30" y1="202.75" x2="1853.30" y2="485.00" stroke="#231f20" stroke-width="1.1" />
<path d="M1828.2,488.4 L1846.1,490.8 L1853.3,485" stroke="#231f20" stroke-width="1.1" fill="none" stroke-linejoin="round"/>
<g style="filter:grayscale(1)">
<text transform="translate(719.80,110.81) scale(0.954,1)" text-anchor="middle" font-size="30.2" >900</text>
<text transform="translate(364.60,299.11) scale(0.954,1)" text-anchor="middle" font-size="30.2" >500</text>
<text transform="translate(435.30,232.11) scale(0.954,1)" text-anchor="middle" font-size="30.2" >250</text>
<text transform="translate(598.60,482.11) scale(0.954,1)" text-anchor="middle" font-size="30.2" >450</text>
<text transform="translate(842.00,482.11) scale(0.954,1)" text-anchor="middle" font-size="30.2" >450</text>
<text transform="translate(719.90,612.41) scale(0.954,1)" text-anchor="middle" font-size="30.2" >900</text>
<text transform="translate(1039.40,642.11) scale(0.9,1)" text-anchor="start" font-size="30.2" >R80</text>
<text transform="translate(283.40,939.81) scale(0.954,1)" text-anchor="middle" font-size="30.2" >1030</text>
<text transform="translate(364.60,710.91) scale(0.954,1)" text-anchor="middle" font-size="30.2" >180</text>
<text transform="translate(336.60,783.71) scale(0.954,1)" text-anchor="middle" font-size="30.2" >90</text>
<text transform="translate(364.60,1012.81) scale(0.954,1)" text-anchor="middle" font-size="30.2" >760</text>
<text transform="translate(408.30,819.81) scale(0.954,1)" text-anchor="middle" font-size="30.2" >35</text>
<text transform="translate(435.40,938.21) scale(0.954,1)" text-anchor="middle" font-size="30.2" >420</text>
<text transform="translate(435.40,1134.21) scale(0.954,1)" text-anchor="middle" font-size="30.2" >305</text>
<text transform="translate(429.50,1259.51) scale(0.954,1)" text-anchor="middle" font-size="30.2" >48</text>
<text transform="translate(1011.80,1259.51) scale(0.954,1)" text-anchor="middle" font-size="30.2" >48</text>
<text transform="translate(719.50,1259.41) scale(0.954,1)" text-anchor="middle" font-size="30.2" >785.5</text>
<text transform="translate(507.80,1280.51) scale(0.954,1)" text-anchor="middle" font-size="30.2" >1.5</text>
<text transform="translate(932.80,1280.51) scale(0.954,1)" text-anchor="middle" font-size="30.2" >1.5</text>
<text transform="translate(719.50,1312.51) scale(0.954,1)" text-anchor="middle" font-size="30.2" >884.5</text>
<text transform="translate(1640.80,592.51) scale(1,1)" text-anchor="middle" font-size="30.2" textLength="252.6" lengthAdjust="spacingAndGlyphs">796 DRAWER OPEN</text>
<text transform="translate(1725.20,639.91) scale(0.954,1)" text-anchor="middle" font-size="30.2" >500</text>
<text transform="translate(1893.20,705.71) scale(1,1)" text-anchor="start" font-size="30.2" textLength="117.5" lengthAdjust="spacingAndGlyphs">**12 / 20</text>
<text transform="translate(1317.00,988.01) scale(0.954,1)" text-anchor="middle" font-size="30.2" >850</text>
<text transform="translate(1359.40,784.21) scale(0.954,1)" text-anchor="middle" font-size="30.2" >90</text>
<text transform="translate(1359.40,817.41) scale(0.954,1)" text-anchor="middle" font-size="30.2" >35</text>
<text transform="translate(1387.40,937.61) scale(0.954,1)" text-anchor="middle" font-size="30.2" >420</text>
<text transform="translate(1387.40,1134.11) scale(0.954,1)" text-anchor="middle" font-size="30.2" >305</text>
<text transform="translate(1700.50,877.91) scale(0.954,1)" text-anchor="middle" font-size="30.2" >64</text>
<text transform="translate(1723.10,976.81) scale(0.954,1)" text-anchor="middle" font-size="30.2" >149</text>
<text transform="translate(1892.60,902.81) scale(0.954,1)" text-anchor="middle" font-size="30.2" >79</text>
<text transform="translate(1904.70,1008.51) scale(0.954,1)" text-anchor="middle" font-size="30.2" >109</text>
<text transform="translate(1539.40,1259.51) scale(0.954,1)" text-anchor="middle" font-size="30.2" >18</text>
<text transform="translate(1726.10,1259.51) scale(0.954,1)" text-anchor="middle" font-size="30.2" >476</text>
<text transform="translate(1726.10,1312.41) scale(0.954,1)" text-anchor="middle" font-size="30.2" >494</text>
</g>
</svg>
</body></html>
